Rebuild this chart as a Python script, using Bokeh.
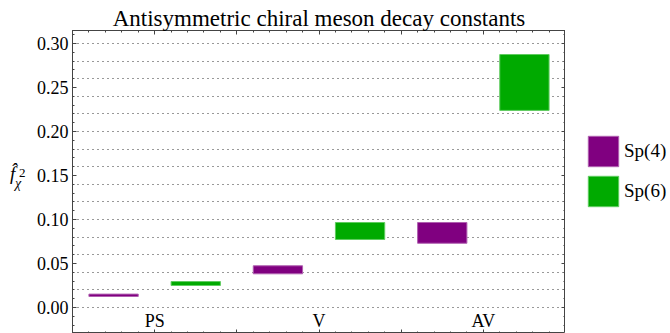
from bokeh.plotting import figure
from bokeh.models import (Range1d, FixedTicker, LinearAxis, PrintfTickFormatter,
                          Legend, LegendItem, Div)
from bokeh.layouts import row
from bokeh.core.properties import value
from bokeh.embed import file_html
from bokeh.resources import INLINE

# ---- data ----
categories = ["PS", "V", "AV"]
sp4_low = [0.0125, 0.0383, 0.0730]
sp4_high = [0.0152, 0.0474, 0.0966]
sp6_low = [0.0250, 0.0773, 0.2240]
sp6_high = [0.0295, 0.0966, 0.2875]
y_tick_values = [0.00, 0.05, 0.10, 0.15, 0.20, 0.25, 0.30]
series_names = ["Sp(4)", "Sp(6)"]

FONT = "Liberation Serif"
PURPLE = "#800080"
GREEN = "#00aa00"
PURPLE_EDGE = "#b060b0"
GREEN_EDGE = "#60cc60"

half_w = 0.3
sp4_x = [2 * i + 0.5 for i in range(len(categories))]
sp6_x = [2 * i + 1.5 for i in range(len(categories))]
cat_x = [2 * i + 1 for i in range(len(categories))]

LABEL_W = 30
LEGEND_W = 105
p = figure(width=670 - LABEL_W - LEGEND_W, height=333, output_backend="svg",
           toolbar_location=None,
           x_range=Range1d(0, 6), y_range=Range1d(-0.02955, 0.3148),
           min_border_left=72 - LABEL_W, min_border_right=0, min_border_top=30,
           min_border_bottom=0)
p.title.text = "Antisymmetric chiral meson decay constants"
p.title.text_font = FONT
p.title.text_font_style = "normal"
p.title.text_font_size = "23px"
p.title.align = "center"
p.title.text_color = "black"
p.title.standoff = 0
p.title.offset = 0

p.outline_line_color = "#444444"
p.background_fill_color = "white"
p.border_fill_color = "white"

# grid
p.xgrid.visible = False
p.ygrid.ticker = FixedTicker(ticks=[round(0.02 * k, 2) for k in range(16)])
p.ygrid.grid_line_color = "#333333"
p.ygrid.grid_line_dash = "1 4"
p.ygrid.grid_line_width = 1

x_major = [0, 1, 2, 3, 4, 5, 6]
x_minor = [k * 0.2 for k in range(31)]
y_minor = [k * 0.01 for k in range(-3, 32)]

def style_axis(ax, ticks, labels):
    ax.axis_line_color = "#444444"
    ax.major_tick_line_color = "#444444"
    ax.minor_tick_line_color = "#444444"
    ax.major_tick_in = 4
    ax.major_tick_out = 0
    ax.minor_tick_in = 2
    ax.minor_tick_out = 0
    if not labels:
        ax.major_label_overrides = {t: "" for t in ticks}
        ax.major_label_standoff = 0
        ax.major_label_text_font_size = "1px"

# left axis
yl = p.yaxis[0]
yl.ticker = FixedTicker(ticks=y_tick_values, minor_ticks=y_minor)
yl.formatter = PrintfTickFormatter(format="%.2f")
yl.major_label_text_font = FONT
yl.major_label_text_font_size = "18px"
yl.major_label_text_color = "black"
yl.major_label_standoff = 4
style_axis(yl, y_tick_values, True)

# bottom axis (frame only)
xb = p.xaxis[0]
xb.ticker = FixedTicker(ticks=x_major, minor_ticks=x_minor)
style_axis(xb, x_major, False)

# right & top frame axes
yr = LinearAxis(ticker=FixedTicker(ticks=y_tick_values, minor_ticks=y_minor))
style_axis(yr, y_tick_values, False)
p.add_layout(yr, "right")
xt = LinearAxis(ticker=FixedTicker(ticks=x_major, minor_ticks=x_minor))
style_axis(xt, x_major, False)
p.add_layout(xt, "above")

# bars
r4 = p.quad(left=[x - half_w for x in sp4_x], right=[x + half_w for x in sp4_x],
            bottom=sp4_low, top=sp4_high,
            fill_color=PURPLE, line_color=PURPLE_EDGE, line_width=1)
r6 = p.quad(left=[x - half_w for x in sp6_x], right=[x + half_w for x in sp6_x],
            bottom=sp6_low, top=sp6_high,
            fill_color=GREEN, line_color=GREEN_EDGE, line_width=1)

# category labels inside the frame
p.text(x=cat_x, y=[-0.0148] * len(categories), text=categories,
       text_align="center", text_baseline="middle",
       text_font=value(FONT), text_font_size="18px", text_color="black")

# legend panel (separate figure at the right, same styles as the bars;
# its renderers hold one NaN row so only the legend swatch is drawn)
nan = float("nan")
lg = figure(width=LEGEND_W, height=333, output_backend="svg",
            toolbar_location=None, x_range=Range1d(0, 1), y_range=Range1d(0, 1),
            x_axis_location=None, y_axis_location=None,
            min_border=0, outline_line_color=None)
lg.grid.visible = False
lr4 = lg.quad(left=[nan], right=[nan], bottom=[nan], top=[nan],
              fill_color=PURPLE, line_color=PURPLE_EDGE, line_width=1)
lr6 = lg.quad(left=[nan], right=[nan], bottom=[nan], top=[nan],
              fill_color=GREEN, line_color=GREEN_EDGE, line_width=1)
legend = Legend(items=[LegendItem(label=series_names[0], renderers=[lr4]),
                       LegendItem(label=series_names[1], renderers=[lr6])],
                location=(19, 123), glyph_width=38, glyph_height=38,
                spacing=2, padding=0, margin=0, label_standoff=2,
                label_text_font=FONT, label_text_font_size="19px",
                label_text_color="black", background_fill_alpha=0,
                border_line_alpha=0)
lg.add_layout(legend, "center")

# y-axis label  f̂_χ^2
ylabel_html = (
    '<div style="position:relative;width:%dpx;height:333px;'
    'font-family:\'Liberation Serif\';color:black;line-height:1;">'
    '<span style="position:absolute;left:10px;top:164px;font-size:19px;font-style:italic;">f\u0302</span>'
    '<span style="position:absolute;left:19px;top:166px;font-size:13px;">2</span>'
    '<span style="position:absolute;left:15px;top:177px;font-size:14px;font-style:italic;">\u03c7</span>'
    '</div>' % LABEL_W)
ylabel = Div(text=ylabel_html, width=LABEL_W, height=333, margin=(0, 0, 0, 0))

layout = row(ylabel, p, lg, spacing=0, margin=(0, 0, 0, 0))
open("out.html", "w").write(file_html(layout, INLINE))
